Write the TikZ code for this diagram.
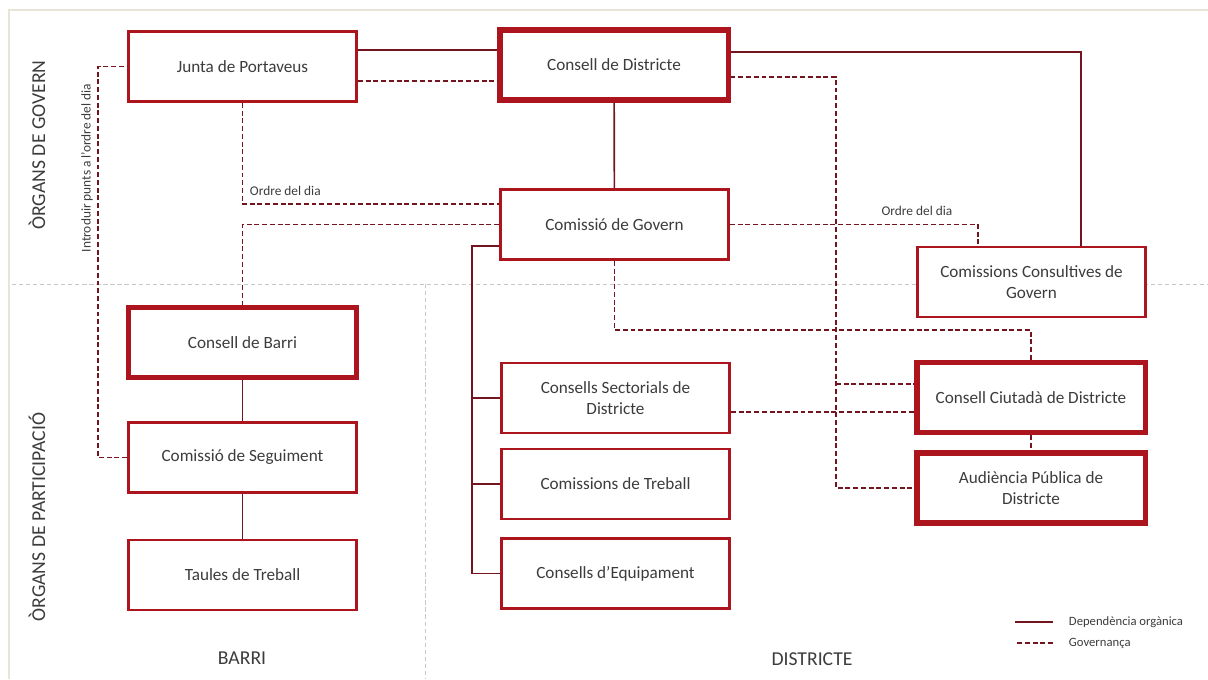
\documentclass[tikz,border=0pt]{standalone}
\usepackage{fontspec}
\setmainfont{Carlito}
\usepackage{tikz}
\definecolor{boxred}{RGB}{172,20,30}
\definecolor{linered}{RGB}{115,20,30}
\definecolor{txtgray}{RGB}{60,60,60}
\definecolor{divgray}{RGB}{200,200,200}
\definecolor{framebeige}{RGB}{232,228,214}
\usetikzlibrary{arrows.meta}
\tikzset{
    organ/.style = {draw=boxred, line width=2pt, fill=white, minimum width=5.7cm, minimum height=1.75cm, align=center, text=txtgray, font=\fontsize{12.2}{14.5}\selectfont},
    organthick/.style = {organ, line width=3.6pt},
    dep/.style = {draw=linered, line width=1.2pt},
    gov/.style = {draw=linered, line width=1.4pt, dash pattern=on 3.5pt off 2pt},
    divider/.style = {draw=divgray, line width=0.6pt, dash pattern=on 3pt off 2pt},
    smalllabel/.style = {text=txtgray, font=\fontsize{9.5}{11}\selectfont},
    section/.style = {text=txtgray, font=\fontsize{14}{16}\selectfont}
}

\begin{document}
\begin{tikzpicture}[line cap=butt,line join=miter,x=0.025cm,y=-0.025cm]
    \useasboundingbox (0,0) rectangle (1208,679);
    
    \draw [framebeige, line width=0.8pt] (9,679) -- (9,10) -- (1208,10);
    \draw [divider] (12,284) -- (1208,284);
    \draw [divider] (425,284) -- (425,679);
    
    \node [section, rotate=90] (govern) at (37,145) {ÒRGANS DE GOVERN};
    \node [section, rotate=90] (particip) at (37,517) {ÒRGANS DE PARTICIPACIÓ};
    \node [section] (barri) at (242,658) {BARRI};
    \node [section] (districte) at (812,659) {DISTRICTE};
    
    % organs
    \node [organ] (jp) at (242.5,66.5) {Junta de Portaveus};
    \node [organthick] (cd) at (614,65) {Consell de Districte};
    \node [organ] (cg) at (614.5,224.5) {Comissió de Govern};
    \node [organ] (ccg) at (1031.5,282) {Comissions Consultives de\\Govern};
    \node [organthick] (cb) at (242.5,342.5) {Consell de Barri};
    \node [organ] (cs) at (242.5,457.5) {Comissió de Seguiment};
    \node [organ, line width=1.6pt] (tt) at (242.5,575) {Taules de Treball};
    \node [organ] (csd) at (615.5,398) {Consells Sectorials de\\Districte};
    \node [organ] (ct) at (615.5,484) {Comissions de Treball};
    \node [organ] (ceq) at (615.5,573.5) {Consells d’Equipament};
    \node [organthick] (ccd) at (1031,397.5) {Consell Ciutadà de Districte};
    \node [organthick] (apd) at (1031,488) {Audiència Pública de\\Districte};
    
    % dependencia organica
    \draw [dep] (jp.east |- 0,50) -- (cd.west |- 0,50);
    \draw [dep] (cd) -- (cg);
    \draw [dep] (cd.east |- 0,52) -| (ccg.north -| 1081,0);
    \draw [dep] (cb) -- (cs);
    \draw [dep] (cs) -- (tt);
    \draw [dep] (cg.west |- 0,246) -| (472,0 |- ceq.west) -- (ceq.west);
    \draw [dep] (472,0 |- csd.west) -- (csd.west);
    \draw [dep] (472,0 |- ct.west) -- (ct.west);
    
    % governanca
    \draw [gov] (jp.east |- 0,81) -- (cd.west |- 0,81);
    \draw [gov, line width=1pt] (cd.east |- 0,77) -| (apd.west -| 836,0) -- (apd.west);
    \draw [gov] (836,0 |- 0,384) -- (ccd.west |- 0,384);
    \draw [gov] (jp.south) |- (cg.west |- 0,204);
    \node [smalllabel, anchor=west] (odjp) at (245,191) {Ordre del dia};
    \draw [gov] (cg.west) -| (cb.north);
    \draw [gov] (cs.west) -| (98,0 |- jp.west) -- (jp.west);
    \node [smalllabel, rotate=90] (intro) at (87,168) {Introduir punts a l’ordre del dia};
    \draw [gov] (cg.east) -| (ccg.north -| 978,0);
    \node [smalllabel] (odcg) at (917,211) {Ordre del dia};
    \draw [gov] (cg.south) |- (0,330 -| ccd.north) -- (ccd.north);
    \draw [gov] (csd.east |- 0,412) -- (ccd.west |- 0,412);
    \draw [gov] (ccd) -- (apd);
    
    % llegenda
    \node [smalllabel, anchor=west, font=\fontsize{9}{11}\selectfont] (legdep) at (1064,622) {Dependència orgànica};
    \node [smalllabel, anchor=west, font=\fontsize{9}{11}\selectfont] (leggov) at (1064,643) {Governança};
    \draw [dep] (legdep.west) ++(-11,0) -- ++(-38,0);
    \draw [gov] (leggov.west) ++(-11,0) -- ++(-38,0);
\end{tikzpicture}
\end{document}
